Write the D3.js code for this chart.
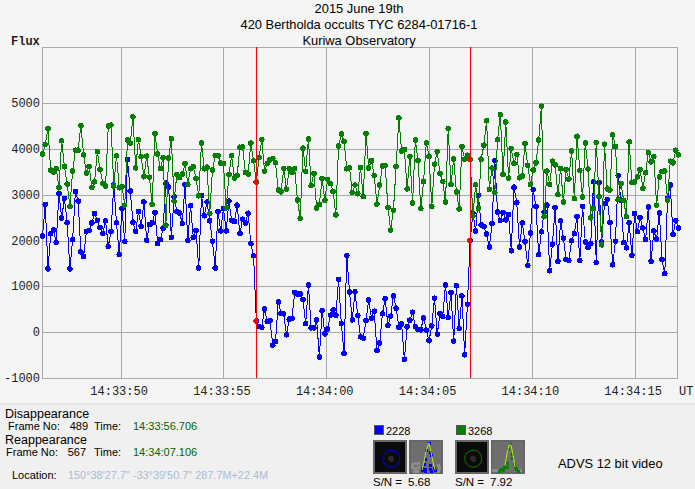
<!DOCTYPE html>
<html>
<head>
<meta charset="utf-8">
<script src="https://cdnjs.cloudflare.com/ajax/libs/d3/7.8.5/d3.min.js"></script>
<style>
html, body { margin: 0; padding: 0; background: #f0f0f0; overflow: hidden; }
svg { display: block; }
</style>
</head>
<body>
<svg id="chart" width="695" height="489"></svg>
<script>
// values, frame 411 is the first point
var firstFrame = 411;
var blueFlux = [2095,2790,1380,2150,2230,1960,3025,2490,2920,2390,1380,2020,3070,2860,1750,1650,2200,2220,2385,2590,
2440,2280,2150,2430,1870,2200,3210,2385,1695,2690,1980,3770,3080,2400,2200,2630,2310,2840,2000,2350,
2385,2610,1935,2020,2270,3250,3170,2070,2950,2630,2600,2370,3220,2000,2760,2070,2220,1400,2980,2540,
2840,2430,1985,1400,2630,2210,2700,2210,2860,2440,2415,2770,2150,2465,2380,2595,1930,1667,246,123,
100,507,232,246,-283,-203,659,413,400,-58,283,297,870,833,833,710,188,1030,94,94,
268,-543,464,-36,72,370,485,370,1152,188,-464,1674,877,268,877,362,-101,-130,254,703,
304,457,-406,-239,400,732,152,348,790,522,109,181,-594,116,261,435,123,58,51,312,
43,-188,138,739,-43,406,348,1029,319,870,-196,1014,80,790,-493,609,1993,2600,2210,2985,
2340,2305,2140,1860,2370,3740,2620,2435,2610,2450,2570,1775,3165,2825,1860,2385,1970,1455,2165,3110,
2745,1690,2190,2620,2770,1340,1915,2715,1545,2430,2050,1585,1565,1995,2150,2520,1560,2745,1965,1855,
1935,3280,1520,3270,1970,2800,2890,2390,1470,1985,3420,2880,1955,1840,2390,1680,2590,2195,2505,2275,
2020,2730,1550,2210,2030,2600,1580,1275,2915,3210,2125,2435,2275];
var greenFlux = [3890,4095,4435,3535,3490,3565,3150,4175,3615,3230,2745,3515,3970,3970,4505,3870,3470,3615,3160,3280,
3940,3550,3245,3190,4500,4520,3190,3850,3150,3180,2770,4195,4125,4695,3585,4200,3830,3390,3840,3380,
2790,4335,3885,3570,3805,2335,3800,4225,2860,3435,3370,3450,3675,3225,3565,3610,3350,2975,4130,3565,
3600,2590,3535,3855,3855,3690,3680,2710,3435,3850,3360,3415,4035,4045,3485,3450,4125,3740,3275,3810,
4200,3510,3680,3760,3790,3695,3100,3060,3570,3120,3565,3490,3565,2885,2480,4015,3510,4215,3195,3465,
2710,2785,3355,2875,3335,3240,3070,2560,4060,4325,4165,3565,3585,3050,3210,3020,3595,2955,4340,3580,
3745,3420,2795,3210,3625,3640,2725,2225,2660,3615,4675,3955,3985,3125,3835,2820,4190,3740,2695,3285,
4130,3840,2745,3665,3940,3465,3285,2840,4440,3225,3780,3060,2690,4045,3775,3860,3770,2535,3215,2700,
3775,4080,4615,3115,3580,3050,4200,4745,3440,4585,3360,4005,3680,3875,3370,3405,4110,3640,3225,3535,
3695,4190,4930,2520,3515,3225,3730,3650,3000,3570,2840,3550,3340,3955,2915,4275,3530,2950,4125,3560,
2495,2695,4140,2955,1905,4100,3125,3100,4305,4050,2890,3245,2870,2520,4150,3260,3275,3390,3550,3140,
3480,3915,3715,3835,2770,3385,3500,3515,2885,3730,3695,3970,3870];

var fluxTicks = [-1000,0,1000,2000,3000,4000,5000];
// x gridlines, seconds after 14:33:00
var timeTicks = [50,55,60,65,70,75];
var timeLabels = ["14:33:50","14:33:55","14:34:00","14:34:05","14:34:10","14:34:15"];

var titleLines = ["2015 June 19th","420 Bertholda occults TYC 6284-01716-1","Kuriwa Observatory"];

var eventFrames = [489,567];
var eventTitles = ["Disappearance","Reappearance"];
var eventTimes = ["14:33:56.706","14:34:07.106"];
var locationText = "150°38'27.7\" -33°39'50.7\" 287.7M+22.4M";

var starLabels = ["2228","3268"];
var starSnr = ["5.68","7.92"];
var starColors = ["#0000ff","#007f00"];

// scales, frame 411 sits on the left edge
var x = d3.scaleLinear().domain([firstFrame, firstFrame + 232]).range([42.5, 678.5]);
var y = d3.scaleLinear().domain([-1000, 5000]).range([378, 103]);
var frameOfSecond = function(s) { return 489 + (s - 56.6) / 0.13333; };
var topFlux = 6215;

var svg = d3.select("#chart");

//Background of the plot part and the panel under it
svg.append("rect").attr("width", 695).attr("height", 403).attr("fill", "#f5f5f5");
svg.append("rect").attr("y", 403).attr("width", 695).attr("height", 2).attr("fill", "#e6e6e6");

var sans = "'Liberation Sans', Arial, sans-serif";
var mono = "'Liberation Mono', 'Courier New', monospace";

var plot = svg.append("g").attr("shape-rendering", "crispEdges");

//Grid
var gridColor = "#a9a9a9";
plot.selectAll("line.h").data(fluxTicks.concat([topFlux])).enter().append("line")
	.attr("x1", 42).attr("x2", 678)
	.attr("y1", function(d){ return Math.round(y(d)) + 0.5; })
	.attr("y2", function(d){ return Math.round(y(d)) + 0.5; })
	.attr("stroke", gridColor);
plot.selectAll("line.v").data(timeTicks).enter().append("line")
	.attr("x1", function(d){ return Math.round(x(frameOfSecond(d))) + 0.5; })
	.attr("x2", function(d){ return Math.round(x(frameOfSecond(d))) + 0.5; })
	.attr("y1", y(topFlux)).attr("y2", 378)
	.attr("stroke", gridColor);
[42.5, 677.5].forEach(function(px){
	plot.append("line").attr("x1", px).attr("x2", px).attr("y1", y(topFlux)).attr("y2", 378).attr("stroke", gridColor);
});

//Flux labels
svg.selectAll("text.flux").data(fluxTicks).enter().append("text")
	.attr("x", 40).attr("y", function(d){ return y(d) + 4; })
	.attr("text-anchor", "end").attr("font-family", mono).attr("font-size", 12).attr("fill", "#222")
	.text(function(d){ return d; });
svg.append("text").attr("x", 11).attr("y", 45).attr("font-family", mono).attr("font-size", 12)
	.attr("font-weight", "bold").attr("fill", "#222").text("Flux");

//Time labels
svg.selectAll("text.time").data(timeTicks).enter().append("text")
	.attr("x", function(d){ return x(frameOfSecond(d)) - 1.5; }).attr("y", 395)
	.attr("text-anchor", "middle").attr("font-family", mono).attr("font-size", 12).attr("fill", "#222")
	.text(function(d, i){ return timeLabels[i]; });
svg.append("text").attr("x", 679).attr("y", 395).attr("font-family", mono).attr("font-size", 12).attr("fill", "#222").text("UT");

//Title
svg.selectAll("text.title").data(titleLines).enter().append("text")
	.attr("x", 359).attr("y", function(d, i){ return 13 + i * 16; })
	.attr("text-anchor", "middle").attr("font-family", sans).attr("font-size", 12.9).attr("fill", "#000")
	.text(function(d){ return d; });

//Series
var line = d3.line().x(function(d, i){ return x(firstFrame + i); }).y(function(d){ return y(d); });
function drawSeries(values, color) {
	var g = svg.append("g").attr("shape-rendering", "crispEdges");
	g.append("path").attr("d", line(values)).attr("fill", "none").attr("stroke", color).attr("stroke-width", 1);
	g.selectAll("circle").data(values).enter().append("circle")
		.attr("cx", function(d, i){ return x(firstFrame + i); })
		.attr("cy", function(d){ return y(d); })
		.attr("r", 2.8)
		.attr("fill", color);
}
drawSeries(blueFlux, "#0000ff");
drawSeries(greenFlux, "#007f00");

//Event lines with their red points
eventFrames.forEach(function(f){
	var px = Math.round(x(f)) + 0.5;
	svg.append("line").attr("x1", px).attr("x2", px).attr("y1", y(topFlux)).attr("y2", 378)
		.attr("stroke", "#ff0000").attr("shape-rendering", "crispEdges");
	[blueFlux, greenFlux].forEach(function(s){
		svg.append("circle").attr("cx", x(f) - 0.5).attr("cy", y(s[f - firstFrame])).attr("r", 2.5)
			.attr("fill", "#ff0000").attr("shape-rendering", "crispEdges");
	});
});

//Text panel on the left
var panel = svg.append("g").attr("font-family", sans).attr("fill", "#000");
eventTitles.forEach(function(t, i){
	var top = i * 26;
	panel.append("text").attr("x", 5).attr("y", 418 + top).attr("font-size", 12.5).text(t);
	panel.append("text").attr("x", i == 0 ? 8 : 6).attr("y", 430 + top).attr("font-size", 11).text("Frame No:");
	panel.append("text").attr("x", i == 0 ? 88 : 86).attr("y", 430 + top).attr("font-size", 11).attr("text-anchor", "end").text(eventFrames[i]);
	panel.append("text").attr("x", 94).attr("y", 430 + top).attr("font-size", 11).text("Time:");
	panel.append("text").attr("x", 133).attr("y", 430 + top).attr("font-size", 11).attr("fill", "#006400").text(eventTimes[i]);
});
panel.append("text").attr("x", 12).attr("y", 479).attr("font-size", 11).text("Location:");
panel.append("text").attr("x", 68).attr("y", 479).attr("font-size", 10.9).attr("fill", "#a9bcd4").text(locationText);

//Star boxes with their aperture pictures, points are offsets inside the small box
var psfBlue = [[20,3],[17,10],[21,12],[22,15],[16,19],[15,24],[13,28],[16,29],[13,30],[16,31],[21,25],[25,28],[21,29],[26,30],[22,31]];
var psfGreen = [[19,4],[17,9],[21,14],[21,18],[16,23],[13,27],[10,29],[8,31],[16,27],[24,27],[25,29],[27,31],[23,24],[12,30]];
var fitBlue = [[13,30],[15,22],[17,11],[20,3],[22,12],[24,22],[26,30]];
var fitGreen = [[14,25],[16,14],[18,5],[20,5],[22,15],[24,27]];
var noiseBlue = [[3,24],[6,23],[9,23],[3,27],[6,28],[9,27],[5,31],[8,31],[29,25],[30,28],[29,31]];
var noiseGreen = [[2,30],[5,30],[29,30]];
var psfSets = [psfBlue, psfGreen];
var fitSets = [fitBlue, fitGreen];
var noiseSets = [noiseBlue, noiseGreen];
var fitLine = d3.line().x(function(d){ return 409 + d[0]; }).y(function(d){ return 440 + d[1]; });

starLabels.forEach(function(label, i){
	var g = svg.append("g").attr("transform", "translate(" + (i * 82) + ",0)").attr("shape-rendering", "crispEdges");
	g.append("rect").attr("x", 374.5).attr("y", 425.5).attr("width", 9).attr("height", 9).attr("fill", starColors[i]).attr("stroke", "#555");
	g.append("text").attr("x", 386).attr("y", 435).attr("font-family", sans).attr("font-size", 11).attr("fill", "#000").text(label);
	g.append("rect").attr("x", 374).attr("y", 441).attr("width", 32).attr("height", 32).attr("fill", "#0a0a0a").attr("stroke", "#666").attr("stroke-width", 2);
	g.append("circle").attr("cx", 391.2).attr("cy", 458.7).attr("r", 3).attr("fill", "#2a2a2a");
	g.append("circle").attr("cx", 391.2).attr("cy", 458.7).attr("r", 8.5).attr("fill", "none").attr("stroke", starColors[i]).attr("shape-rendering", "auto");
	g.append("rect").attr("x", 410).attr("y", 441).attr("width", 32).attr("height", 32).attr("fill", "#6e6e6e").attr("stroke", "#666").attr("stroke-width", 2);
	g.selectAll("rect.noise").data(noiseSets[i]).enter().append("rect")
		.attr("x", function(d){ return 409 + d[0] - 1; })
		.attr("y", function(d){ return 440 + d[1] - 1; })
		.attr("width", 3).attr("height", 3).attr("fill", "#8c8c8c");
	g.selectAll("rect.psf").data(psfSets[i]).enter().append("rect")
		.attr("x", function(d){ return 409 + d[0] - 1.5; })
		.attr("y", function(d){ return 440 + d[1] - 1.5; })
		.attr("width", 3).attr("height", 3).attr("fill", starColors[i]);
	g.append("path").attr("d", fitLine(fitSets[i])).attr("fill", "none").attr("stroke", "#b4f000").attr("shape-rendering", "auto");
	g.append("text").attr("x", 373).attr("y", 486).attr("font-family", sans).attr("font-size", 11.5).attr("fill", "#000").text("S/N =");
	g.append("text").attr("x", 408).attr("y", 486).attr("font-family", sans).attr("font-size", 11.5).attr("fill", "#000").text(starSnr[i]);
});
svg.append("text").attr("x", 558).attr("y", 468).attr("font-family", sans).attr("font-size", 12.9).attr("fill", "#000").text("ADVS 12 bit video");
</script>
</body>
</html>
